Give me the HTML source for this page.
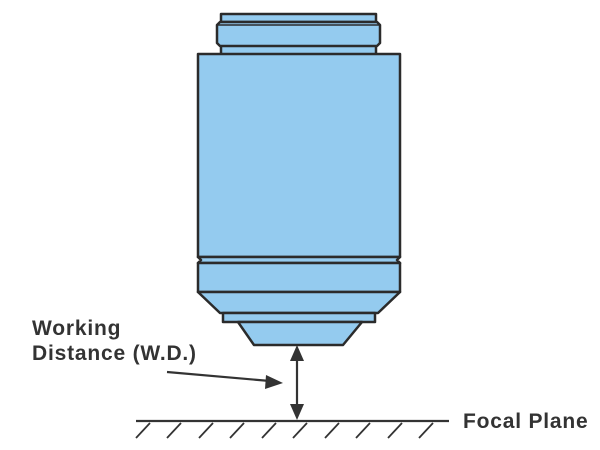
<!DOCTYPE html>
<html><head><style>body{margin:0;background:#fff}svg{display:block}</style></head><body>
<svg width="600" height="450" viewBox="0 0 600 450" xmlns="http://www.w3.org/2000/svg">
<g fill="#94cbef" stroke="#2b2b2b" stroke-width="2.5" stroke-linejoin="round">
<rect x="221" y="14" width="155" height="8"/>
<rect x="221" y="45" width="155" height="10"/>
<path d="M220 22 L377 22 L380 25 L380 43 L377 46 L220 46 L217 43 L217 25 Z"/>
<rect x="198" y="54" width="202" height="203"/>
<path d="M198 257 L400 257 L397 260 L400 263 L198 263 L201 260 Z"/>
<rect x="198" y="263" width="202" height="29"/>
<path d="M198 292 L400 292 L378 313 L220 313 Z"/>
<rect x="223" y="313" width="152" height="9"/>
<path d="M238 322 L362 322 L343 345 L254 345 Z"/>
</g>
<line x1="217" y1="25" x2="380" y2="25" stroke="#2b2b2b" stroke-width="1.5"/>
<g stroke="#333" stroke-width="2.2" fill="none">
<line x1="297" y1="358" x2="297" y2="408"/>
<line x1="136" y1="421" x2="449" y2="421"/>
<line x1="167" y1="372" x2="270" y2="381"/>
<g stroke-width="1.8">
<line x1="136" y1="438" x2="150" y2="423"/><line x1="167" y1="438" x2="181" y2="423"/>
<line x1="199" y1="438" x2="213" y2="423"/><line x1="230" y1="438" x2="244" y2="423"/>
<line x1="262" y1="438" x2="276" y2="423"/><line x1="293" y1="438" x2="307" y2="423"/>
<line x1="325" y1="438" x2="339" y2="423"/><line x1="356" y1="438" x2="370" y2="423"/>
<line x1="388" y1="438" x2="402" y2="423"/><line x1="419" y1="438" x2="433" y2="423"/>
</g></g>
<g fill="#333">
<path d="M297 345 L290 361 L304 361 Z"/>
<path d="M297 420 L290 404 L304 404 Z"/>
<path d="M283 383 L266 375 L265 389 Z"/>
</g>
<g font-family="Liberation Sans, sans-serif" font-size="21" font-weight="bold" fill="#333" letter-spacing="0.8">
<text x="32" y="335">Working</text>
<text x="32" y="360">Distance (W.D.)</text>
<text x="463" y="428">Focal Plane</text>
</g>
</svg>
</body></html>
